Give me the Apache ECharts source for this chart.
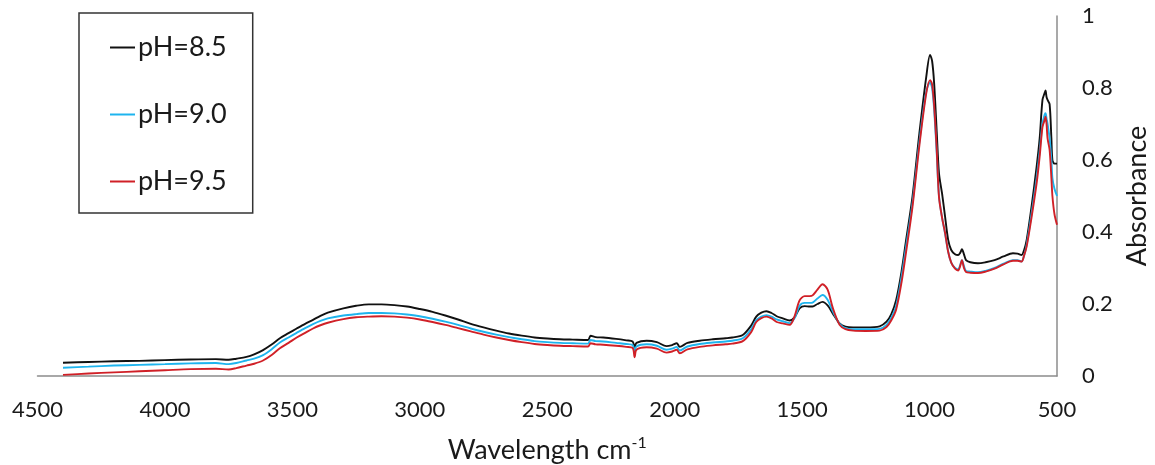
<!DOCTYPE html>
<html>
<head>
<meta charset="utf-8">
<script src="https://cdn.jsdelivr.net/npm/echarts@6/dist/echarts.min.js"></script>
<style>
html,body{margin:0;padding:0;background:#fff;}
#chart{width:1155px;height:465px;}
</style>
</head>
<body>
<div id="chart"></div>
<script>
const seriesNames = ['pH=8.5', 'pH=9.0', 'pH=9.5'];
const xTicks = [4500, 4000, 3500, 3000, 2500, 2000, 1500, 1000, 500];
const yTicks = [0, 0.2, 0.4, 0.6, 0.8, 1];

const wavenumber = [
4400,4300,4200,4100,4000,3900,3800,3750,3720,3680,3650,3615,3580,3549,3515,3483,3450,3419,3390,3361,
3300,3250,3200,3150,3100,3050,3000,2950,2900,2850,2800,2750,2700,2650,2600,2550,2500,2450,2400,2340,
2330,2310,2280,2230,2190,2165,2157,2150,2110,2070,2032,2010,1992,1980,1950,1902,1850,1800,1774,1733,
1700,1680,1660,1640,1620,1600,1576,1549,1530,1510,1490,1470,1459,1440,1420,1400,1380,1353,1330,1300,
1250,1196,1169,1150,1131,1110,1092,1067,1040,1013,998,990,982,972,963,951,939,927,915,900,
888,880,873,865,857,840,810,780,745,710,673,655,639,629,619,600,580,568,557,549,
545,541,537,529,522,518,510,500];

const ph85 = [
0.037,0.039,0.041,0.042,0.044,0.046,0.047,0.045,0.048,0.053,0.060,0.072,0.088,0.105,0.119,0.132,0.145,0.156,0.167,0.176,
0.188,0.195,0.199,0.199,0.197,0.193,0.186,0.178,0.168,0.157,0.145,0.135,0.126,0.118,0.112,0.107,0.104,0.102,0.101,0.100,
0.112,0.108,0.107,0.103,0.099,0.096,0.080,0.092,0.098,0.094,0.083,0.086,0.091,0.081,0.092,0.098,0.102,0.105,0.107,0.114,
0.140,0.165,0.176,0.180,0.175,0.166,0.160,0.154,0.163,0.188,0.194,0.193,0.193,0.200,0.206,0.196,0.174,0.146,0.137,0.135,
0.135,0.138,0.151,0.172,0.211,0.290,0.378,0.498,0.674,0.831,0.892,0.875,0.813,0.680,0.563,0.507,0.442,0.378,0.350,0.338,
0.336,0.342,0.352,0.338,0.322,0.316,0.313,0.316,0.322,0.332,0.341,0.340,0.336,0.350,0.378,0.470,0.581,0.660,0.767,0.785,
0.793,0.775,0.767,0.755,0.660,0.600,0.590,0.590];

const ph90 = [
0.023,0.026,0.029,0.031,0.033,0.035,0.036,0.033,0.036,0.043,0.048,0.058,0.075,0.093,0.107,0.120,0.133,0.144,0.153,0.160,
0.168,0.172,0.175,0.175,0.174,0.171,0.166,0.159,0.151,0.142,0.132,0.123,0.115,0.108,0.102,0.097,0.094,0.092,0.091,0.090,
0.100,0.097,0.096,0.092,0.089,0.086,0.068,0.082,0.088,0.084,0.073,0.076,0.081,0.071,0.082,0.089,0.093,0.096,0.098,0.105,
0.130,0.155,0.165,0.169,0.165,0.157,0.152,0.147,0.160,0.195,0.203,0.203,0.204,0.215,0.225,0.212,0.180,0.145,0.133,0.130,
0.130,0.131,0.142,0.162,0.195,0.275,0.360,0.480,0.650,0.790,0.815,0.800,0.740,0.620,0.500,0.440,0.395,0.345,0.315,0.300,
0.296,0.308,0.322,0.305,0.292,0.290,0.288,0.292,0.300,0.312,0.322,0.322,0.318,0.335,0.365,0.450,0.550,0.625,0.700,0.725,
0.730,0.715,0.700,0.660,0.600,0.550,0.520,0.500];

const ph95 = [
0.003,0.007,0.010,0.013,0.016,0.019,0.020,0.018,0.022,0.029,0.034,0.043,0.059,0.077,0.092,0.107,0.120,0.132,0.141,0.148,
0.158,0.163,0.165,0.166,0.165,0.162,0.157,0.150,0.142,0.133,0.124,0.115,0.107,0.100,0.094,0.089,0.086,0.084,0.083,0.082,
0.091,0.088,0.087,0.084,0.081,0.078,0.052,0.073,0.080,0.076,0.065,0.068,0.073,0.063,0.074,0.081,0.085,0.088,0.090,0.097,
0.122,0.150,0.161,0.165,0.160,0.150,0.146,0.142,0.165,0.210,0.222,0.222,0.224,0.240,0.255,0.240,0.190,0.142,0.130,0.126,
0.125,0.126,0.136,0.155,0.185,0.260,0.345,0.470,0.640,0.785,0.822,0.810,0.750,0.630,0.497,0.440,0.397,0.345,0.315,0.298,
0.293,0.305,0.322,0.300,0.289,0.287,0.286,0.290,0.298,0.310,0.320,0.320,0.318,0.335,0.360,0.440,0.535,0.610,0.692,0.710,
0.720,0.700,0.660,0.628,0.550,0.500,0.450,0.420];

const colors = ['#111111', '#1EB4EE', '#D02027'];
const values = [ph85, ph90, ph95];
const FONT = 'Lato, "Open Sans", sans-serif';

const chart = echarts.init(document.getElementById('chart'), null, {renderer: 'canvas'});
chart.setOption({
  animation: false,
  backgroundColor: '#ffffff',
  textStyle: {fontFamily: FONT, color: '#1a1a1a'},
  grid: {left: 37.5, right: 98, top: 16, bottom: 89, containLabel: false, outerBoundsMode: 'none'},
  legend: {
    left: 79, top: 13,
    orient: 'vertical',
    data: seriesNames,
    icon: 'rect',
    itemWidth: 25, itemHeight: 2,
    itemGap: 40,
    padding: [21, 26, 18, 31],
    borderColor: '#333', borderWidth: 1.5,
    backgroundColor: '#fff',
    textStyle: {fontFamily: FONT, fontSize: 27, color: '#1a1a1a', padding: [0,0,0,-2], lineHeight: 27}
  },
  xAxis: {
    type: 'value',
    min: xTicks[xTicks.length - 1], max: xTicks[0], interval: 500,
    inverse: true,
    axisLine: {show: true, lineStyle: {color: '#8c8c8c', width: 1.5}},
    axisTick: {show: false},
    splitLine: {show: false},
    axisLabel: {fontFamily: FONT, fontSize: 22, color: '#1a1a1a', margin: 23,
      showMinLabel: true, showMaxLabel: true,
      formatter: v => String(v)},
    name: '{a|Wavelength cm}{s|-1}',
    nameLocation: 'middle',
    nameGap: 59,
    nameTextStyle: {
      rich: {
        a: {fontFamily: FONT, fontSize: 27, color: '#1a1a1a'},
        s: {fontFamily: FONT, fontSize: 16, color: '#1a1a1a', padding: [0,0,14,0]}
      }
    }
  },
  yAxis: {
    type: 'value',
    position: 'right',
    min: yTicks[0], max: yTicks[yTicks.length - 1], interval: 0.2,
    axisLine: {show: true, lineStyle: {color: '#8c8c8c', width: 1.5}},
    axisTick: {show: false},
    splitLine: {show: false},
    axisLabel: {fontFamily: FONT, fontSize: 22, color: '#1a1a1a', margin: 25, align: 'left',
      formatter: v => String(v)},
    name: 'Absorbance',
    nameLocation: 'middle',
    nameRotate: 90,
    nameGap: 67,
    nameTextStyle: {fontFamily: FONT, fontSize: 27, color: '#1a1a1a'}
  },
  series: seriesNames.map((n, k) => ({
    name: n,
    type: 'line',
    symbol: 'none',
    smooth: 0.3,
    color: colors[k],
    lineStyle: {width: 1.9, color: colors[k]},
    data: wavenumber.map((w, i) => [w, values[k][i]]),
    z: 2 + k
  }))
});
</script>
</body>
</html>
